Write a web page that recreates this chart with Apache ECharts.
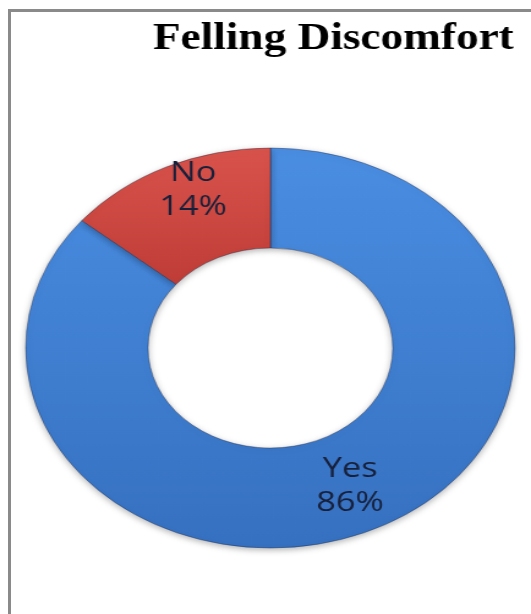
<!DOCTYPE html>
<html>
<head>
<meta charset="utf-8">
<script src="https://cdn.jsdelivr.net/npm/echarts@6/dist/echarts.min.js"></script>
<style>
  html, body { margin: 0; padding: 0; background: #fff; overflow: hidden; }
  #frame {
    position: absolute; left: 8px; top: 9px; width: 600px; height: 700px;
    border-left: 3px solid #8a8a8a; border-top: 3px solid #8a8a8a;
  }
  /* the reference is stretched horizontally, so the chart is drawn narrow and scaled */
  #main {
    position: absolute; left: 0; top: 0; width: 434px; height: 614px;
    transform: scaleX(1.2235); transform-origin: 0 0;
  }
</style>
</head>
<body>
<div id="frame"></div>
<div id="main"></div>
<script>
const titleText = 'Felling Discomfort'
const categories = ['Yes', 'No']
const percents = [86, 14]
const colors = [
  ['#4a8ee2', '#3670c0'],
  ['#d9534c', '#bf3d37']
]

const myChart = echarts.init(document.getElementById('main'))

const data = categories.map((name, i) => ({
  name: name,
  value: percents[i],
  itemStyle: {
    color: new echarts.graphic.LinearGradient(0, 0, 0, 1, [
      { offset: 0, color: colors[i][0] },
      { offset: 1, color: colors[i][1] }
    ])
  },
  label: name === 'No' ? { offset: [2, -20] } : {}
}))

const option = {
  animation: false,
  title: {
    text: titleText,
    left: 120,
    top: 16,
    textStyle: {
      fontFamily: 'Liberation Serif',
      fontWeight: 'bold',
      fontSize: 37,
      color: '#000'
    }
  },
  series: [{
    type: 'pie',
    center: [221, 348],
    radius: [100, 200],
    startAngle: 90,
    clockwise: true,
    itemStyle: {
      borderColor: 'rgba(20,30,60,0.35)',
      borderWidth: 1,
      shadowBlur: 6,
      shadowColor: 'rgba(0,0,0,0.3)',
      shadowOffsetY: 2
    },
    label: {
      show: true,
      position: 'inside',
      formatter: '{b}\n{c}%',
      fontFamily: 'Open Sans',
      fontSize: 28,
      lineHeight: 34,
      color: '#17203a'
    },
    labelLine: { show: false },
    emphasis: { disabled: true },
    data: data
  }]
}

myChart.setOption(option)
</script>
</body>
</html>
